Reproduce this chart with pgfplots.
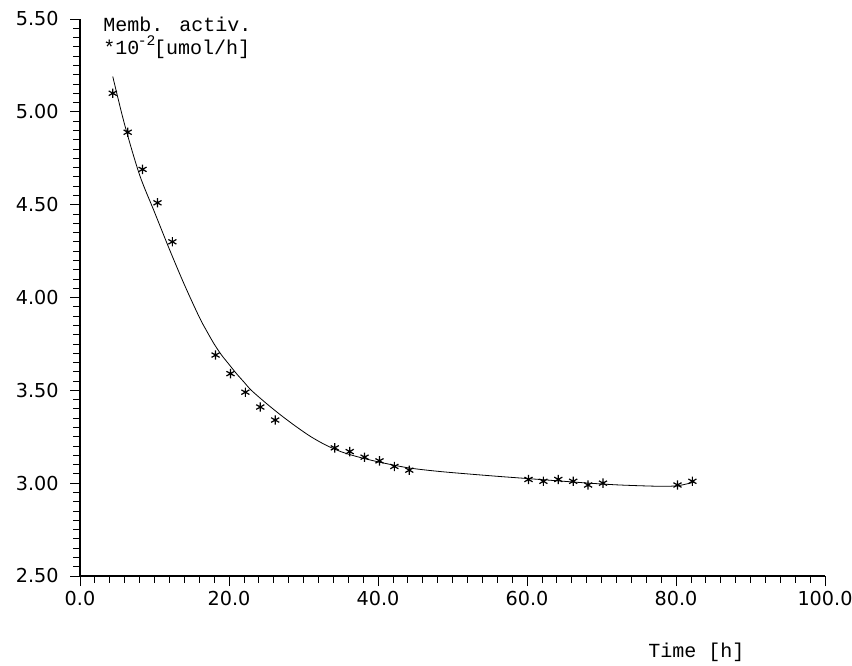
\documentclass[border=0pt]{standalone}
\usepackage{pgfplots}
\pgfplotsset{compat=1.18}
\usepackage{fontspec}
\newfontfamily\labelfont{Liberation Mono}
\newfontfamily\tickfont{DejaVu Sans}

% measured points
\pgfplotstableread{
x y
4.4 5.10
6.4 4.89
8.4 4.69
10.4 4.51
12.4 4.30
18.2 3.69
20.2 3.59
22.2 3.49
24.2 3.41
26.2 3.34
34.2 3.19
36.2 3.17
38.2 3.14
40.2 3.12
42.2 3.09
44.2 3.07
60.2 3.02
62.2 3.01
64.2 3.02
66.2 3.01
68.2 2.99
70.2 3.00
80.2 2.99
82.2 3.01
}\measured

% fitted curve
\pgfplotstableread{
x y
4.4 5.19
6.0 4.93
8.0 4.66
10.0 4.46
12.0 4.26
14.0 4.07
16.0 3.895
17.0 3.82
18.0 3.75
19.0 3.69
20.0 3.64
21.0 3.59
22.0 3.545
23.0 3.50
25.0 3.43
27.0 3.365
29.0 3.305
31.0 3.25
33.0 3.205
35.0 3.17
37.0 3.145
40.0 3.115
44.0 3.083
48.0 3.064
52.0 3.05
56.0 3.037
60.0 3.025
64.0 3.013
68.0 3.001
72.0 2.991
76.0 2.985
78.7 2.983
80.5 2.988
82.5 3.006
}\fitted

\begin{document}
\begin{tikzpicture}
\begin{axis}[
    scale only axis,
    width=558.75pt,
    height=417.75pt,
    axis lines*=left,
    axis line style={line width=1pt},
    xmin=0, xmax=100,
    ymin=2.5, ymax=5.5,
    xtick={0,20,...,100},
    ytick={2.5,3,...,5.5},
    minor x tick num=9,
    minor y tick num=9,
    tick align=outside,
    major tick length=7.5pt,
    minor tick length=5.25pt,
    tick style={black, line width=0.6pt},
    /pgf/number format/assume math mode=true,
    ticklabel style={font=\tickfont\fontsize{14.4}{16}\selectfont},
    xticklabel style={yshift=-0.5pt, /pgf/number format/.cd, fixed, fixed zerofill, precision=1},
    yticklabel style={xshift=-5pt, /pgf/number format/.cd, fixed, fixed zerofill, precision=2},
    clip=false
]
\addplot[black, line width=0.6pt, smooth] table {\fitted};
\addplot[only marks, mark=asterisk, mark size=3.5pt, mark options={line width=0.9pt}] table {\measured};
\node[anchor=base west, inner sep=0pt, font=\labelfont\fontsize{15}{17}\selectfont]
    at ([xshift=17.25pt, yshift=-9.75pt]rel axis cs:0,1) {Memb. activ.};
\node[anchor=base west, inner sep=0pt, font=\labelfont\fontsize{15}{17}\selectfont]
    at ([xshift=17.25pt, yshift=-27pt]rel axis cs:0,1) {*10\kern-1pt\raisebox{0.45em}{\fontsize{11}{11}\selectfont -2}\kern-1pt[umol/h]};
\node[anchor=base west, inner sep=0pt, font=\labelfont\fontsize{15}{17}\selectfont]
    at ([xshift=426pt, yshift=-61.5pt]rel axis cs:0,0) {Time [h]};
\end{axis}
\pgfresetboundingbox
\path[use as bounding box] ([xshift=-60pt, yshift=-67.5pt]current axis.south west) rectangle ([xshift=20.25pt, yshift=14.25pt]current axis.north east);
\end{tikzpicture}
\end{document}
